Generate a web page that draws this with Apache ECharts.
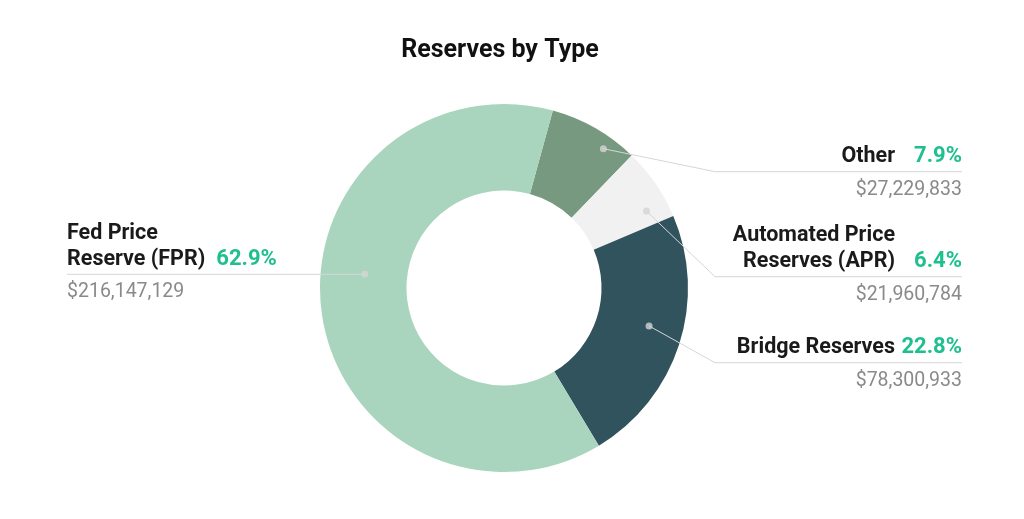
<!DOCTYPE html>
<html><head><meta charset="utf-8">
<script src="https://cdn.jsdelivr.net/npm/echarts@6/dist/echarts.min.js"></script>
<style>html,body{margin:0;padding:0;background:#fff}#c{width:1024px;height:519px}</style>
</head><body><div id="c"></div>
<script>
// ---- data ----
const categories = ['Other', 'Automated Price Reserves (APR)', 'Bridge Reserves', 'Fed Price Reserve (FPR)'];
const nameLines = [['Other'], ['Automated Price', 'Reserves (APR)'], ['Bridge Reserves'], ['Fed Price', 'Reserve (FPR)']];
const values = [27229833, 21960784, 78300933, 216147129];
const titleText = 'Reserves by Type';

// ---- style / layout ----
const colors = ['#77997f', '#f0f1f0', '#31535d', '#a9d5be'];
const FONT = 'Roboto, "Noto Sans", sans-serif';
const CENTER = [504, 288];
const RADII = [97.5, 184];
const START = 74.6;
const NAME_FS = 21.5, PCT_FS = 22, VAL_FS = 19.5;
const PCT_COL = 67;
const L = {
  side: ['right', 'right', 'right', 'left'],
  lineY: [171.7, 276.7, 362.7, 274.3],
  elbowX: 715, right: 962, left: 67,
  dotFrac: [0.705, 0.77, 0.46, 0.56],
  dotR: [0.93, 0.88, 0.815, 0.76]
};

const total = values.reduce((a, b) => a + b, 0);
const pct = values.map(v => (v / total * 100).toFixed(1) + '%');
const money = v => '$' + v.toLocaleString('en-US');

function rich(side) {
  const a = side;
  const r = {
    n: { fontSize: NAME_FS, fontWeight: 'bold', color: '#1a1a1a', lineHeight: 26, fontFamily: FONT, align: a },
    v: { fontSize: VAL_FS, color: '#8a8a8a', lineHeight: 40, fontFamily: FONT, align: a }
  };
  if (side === 'right') {
    r.p = { fontSize: PCT_FS, fontWeight: 'bold', color: '#1fbf8f', lineHeight: 26, fontFamily: FONT, align: 'right', width: PCT_COL };
    r.sp = { fontSize: NAME_FS, lineHeight: 26, align: 'right', width: PCT_COL };
  } else {
    r.p = { fontSize: PCT_FS, fontWeight: 'bold', color: '#1fbf8f', lineHeight: 26, fontFamily: FONT, align: 'left', padding: [0, 0, 0, 11] };
  }
  return r;
}

function labelText(i) {
  const rows = nameLines[i];
  const parts = [];
  rows.forEach((r, k) => {
    if (k === rows.length - 1) parts.push('{n|' + r + '}{p|' + pct[i] + '}');
    else if (L.side[i] === 'right') parts.push('{n|' + r + '}{sp| }');
    else parts.push('{n|' + r + '}');
  });
  parts.push('{v|' + money(values[i]) + '}');
  return parts.join('\n');
}

// angle positions of dots along each slice (in value units)
const cum = [];
values.reduce((acc, v, i) => { cum[i] = acc; return acc + v; }, 0);
const dotData = values.map((v, i) => [L.dotR[i], cum[i] + v * L.dotFrac[i]]);

const fillData = categories.map((c, i) => ({ name: c, value: values[i], itemStyle: { color: colors[i] } }));
const labelData = categories.map((c, i) => ({
  name: c, value: values[i],
  itemStyle: { color: 'rgba(0,0,0,0)' },
  label: { formatter: labelText(i), rich: rich(L.side[i]) }
}));

const chart = echarts.init(document.getElementById('c'), null, { renderer: 'canvas' });
const pieCommon = {
  type: 'pie', center: CENTER, radius: RADII, startAngle: START, clockwise: true,
  avoidLabelOverlap: false, silent: true, emphasis: { disabled: true }
};
const base = {
  animation: false,
  title: {
    text: titleText, left: 495, textAlign: 'center', top: 33,
    textStyle: { fontSize: 25, fontWeight: 'bold', color: '#111', fontFamily: FONT }
  },
  polar: { center: CENTER, radius: RADII[1] },
  angleAxis: { type: 'value', min: 0, max: total, startAngle: START, clockwise: true,
    axisLine: { show: false }, axisTick: { show: false }, axisLabel: { show: false }, splitLine: { show: false } },
  radiusAxis: { type: 'value', min: 0, max: 1,
    axisLine: { show: false }, axisTick: { show: false }, axisLabel: { show: false }, splitLine: { show: false } },
  series: [
    Object.assign({}, pieCommon, {
      id: 'fill', z: 1,
      label: { show: false }, labelLine: { show: false },
      data: fillData
    }),
    Object.assign({}, pieCommon, {
      id: 'labels', z: 3,
      label: { show: true, position: 'outside' },
      labelLine: { show: true, smooth: false, length: 20, length2: 20,
        lineStyle: { color: '#d6d6d6', width: 1 } },
      data: labelData
    }),
    {
      id: 'dots', type: 'scatter', coordinateSystem: 'polar', silent: true,
      symbol: 'circle', symbolSize: 7, itemStyle: { color: '#d4d4d4' },
      data: dotData, z: 5
    }
  ]
};
chart.setOption(base);

const dots = dotData.map(d => chart.convertToPixel({ seriesIndex: 2 }, d));

function layoutFn(p) {
  const i = p.dataIndex;
  const ly = L.lineY[i];
  const top = ly - 2 - nameLines[i].length * 26;
  const d = dots[i];
  if (L.side[i] === 'right') {
    return { x: L.right, y: top, align: 'right', verticalAlign: 'top',
      labelLinePoints: [[d[0], d[1]], [L.elbowX, ly], [L.right, ly]] };
  }
  return { x: L.left, y: top, align: 'left', verticalAlign: 'top',
    labelLinePoints: [[d[0], d[1]], [d[0] - 2, ly], [L.left, ly]] };
}
chart.setOption({ series: [{ id: 'labels', labelLayout: layoutFn }] });
</script>
</body></html>
